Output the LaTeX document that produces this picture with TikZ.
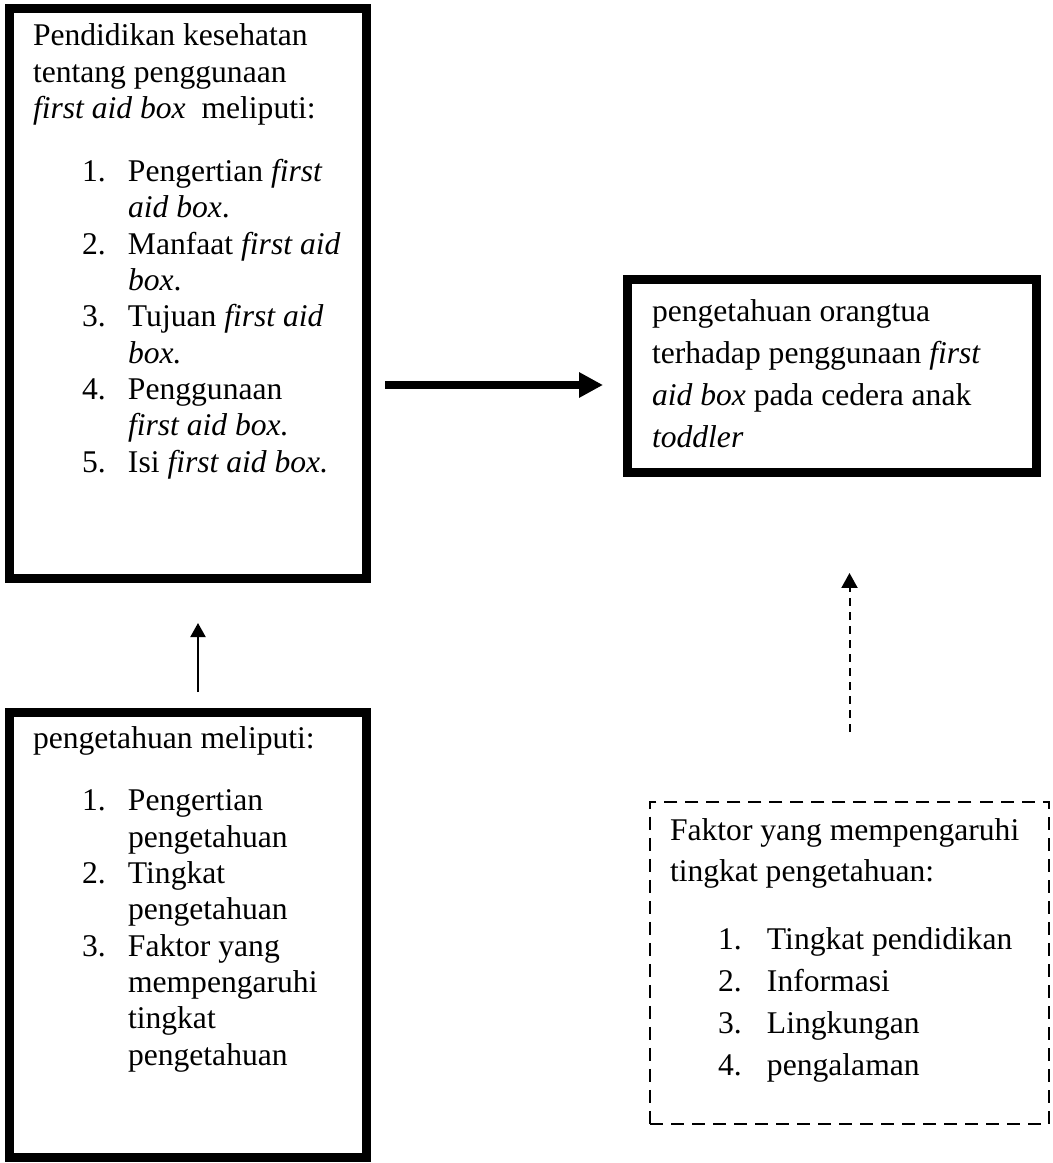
\documentclass[tikz,border=0pt]{standalone}
\usepackage{fontspec}
\setmainfont{Liberation Serif}
\usetikzlibrary{arrows.meta}
\newlength\pxl
\setlength\pxl{0.37975pt}
\newcommand\numA[2]{\hspace*{49\pxl}\makebox[46\pxl][l]{#1}#2}
\newcommand\contA[1]{\hspace*{95\pxl}#1}
\newcommand\numB[2]{\hspace*{48\pxl}\makebox[49\pxl][l]{#1}#2}
\begin{document}
\begin{tikzpicture}[x=0.37975pt,y=-0.37975pt,
  solidbox/.style={draw, line width=3.418pt, inner sep=0pt, outer sep=0pt},
  dashbox/.style={draw, line width=0.76pt, dash pattern=on 4.94pt off 3.04pt, inner sep=0pt, outer sep=0pt},
  txtsingle/.style={anchor=base west, inner sep=0pt, outer sep=0pt, font=\fontsize{12}{13.8}\selectfont},
  txtmulti/.style={anchor=base west, inner sep=0pt, outer sep=0pt, font=\fontsize{12}{15.87}\selectfont},
  bigarrow/.style={line width=2.66pt, -{Triangle[length=9.11pt, width=9.11pt]}},
  thinarrow/.style={line width=0.76pt, -{Triangle[length=5.32pt, width=5.7pt]}},
  dasharrow/.style={line width=0.76pt, dash pattern=on 3.04pt off 2.28pt, -{Triangle[length=5.7pt, width=6.08pt]}}
]
\useasboundingbox (0,0) rectangle (1052,1163);
\fill[white] (0,0) rectangle (1052,1163);

% boxes
\node[solidbox, minimum width=135.57pt, minimum height=216.46pt] (b1) at (188,293.5) {};
\node[solidbox, minimum width=155.32pt, minimum height=73.29pt] (b2) at (832,376) {};
\node[solidbox, minimum width=135.57pt, minimum height=168.99pt] (b3) at (188,935) {};
\node[dashbox, minimum width=151.52pt, minimum height=122.28pt] (b4) at (849.5,963) {};

% texts
\node[txtsingle] (t1) at (33,46) {\parbox[t]{340\pxl}{%
Pendidikan kesehatan\\
tentang penggunaan\\
\textit{first aid box}\ \ meliputi:\\[10pt]
\numA{1.}{Pengertian \textit{first}}\\
\contA{\textit{aid box}.}\\
\numA{2.}{Manfaat \textit{first aid}}\\
\contA{\textit{box}.}\\
\numA{3.}{Tujuan \textit{first aid}}\\
\contA{\textit{box.}}\\
\numA{4.}{Penggunaan}\\
\contA{\textit{first aid box.}}\\
\numA{5.}{Isi \textit{first aid box.}}}};

\node[txtmulti] (t2) at (652,322) {\parbox[t]{390\pxl}{%
pengetahuan orangtua\\
terhadap penggunaan \textit{first}\\
\textit{aid box} pada cedera anak\\
\textit{toddler}}};

\node[txtsingle] (t3) at (33,748) {\parbox[t]{340\pxl}{%
pengetahuan meliputi:\\[10pt]
\numA{1.}{Pengertian}\\
\contA{pengetahuan}\\
\numA{2.}{Tingkat}\\
\contA{pengetahuan}\\
\numA{3.}{Faktor yang}\\
\contA{mempengaruhi}\\
\contA{tingkat}\\
\contA{pengetahuan}}};

\node[txtmulti] (t4) at (670,840) {\parbox[t]{380\pxl}{%
Faktor yang mempengaruhi\\
tingkat pengetahuan:\\[10pt]
\numB{1.}{Tingkat pendidikan}\\
\numB{2.}{Informasi}\\
\numB{3.}{Lingkungan}\\
\numB{4.}{pengalaman}}};

% connectors
\coordinate (y1) at (0,385);
\coordinate (x2) at (198,0);
\draw[bigarrow, shorten <=7.03pt, shorten >=9.30pt] (b1.east |- y1) -- (b2.west |- y1);
\draw[thinarrow, shorten <=7.78pt, shorten >=16.90pt] (b3.north -| x2) -- (b1.south -| x2);
\draw[dasharrow, shorten <=26.58pt, shorten >=38.16pt] (b4.north) -- (b2.south -| b4.north);
\end{tikzpicture}
\end{document}
